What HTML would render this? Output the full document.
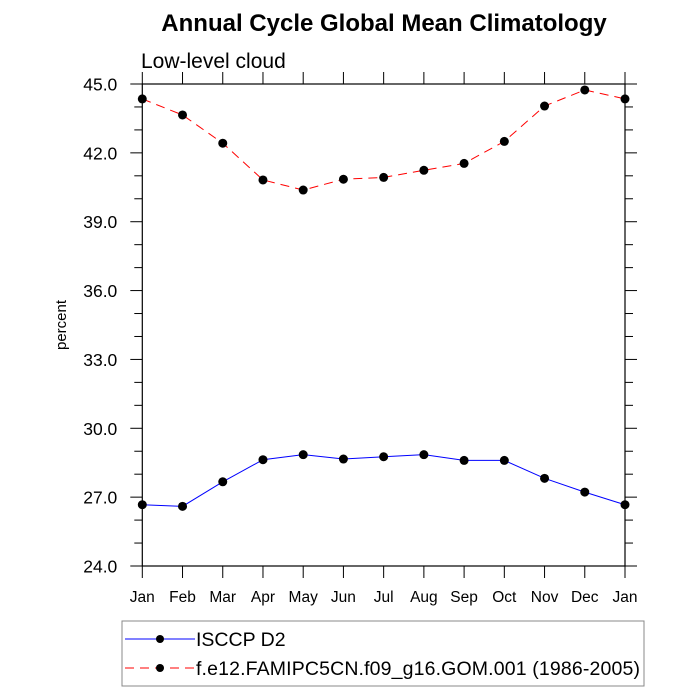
<!DOCTYPE html>
<html><head><meta charset="utf-8"><style>
body{margin:0;background:#fff;}
svg{display:block;font-family:"Liberation Sans",sans-serif;}
</style></head><body>
<svg id="chart" width="700" height="700">
<text x="384" y="31" text-anchor="middle" font-size="24" font-weight="bold">Annual Cycle Global Mean Climatology</text>
<text x="141" y="68" font-size="21">Low-level cloud</text>
<text transform="translate(66,325) rotate(-90)" text-anchor="middle" font-size="15">percent</text>
<g id="axes"></g>
<g id="series"></g>
<g>
<rect x="122" y="621" width="522" height="65" fill="none" stroke="#888" stroke-width="1"/>
<line x1="125" y1="639" x2="195" y2="639" stroke="#0000ff" stroke-width="1"/>
<circle cx="160" cy="639" r="4" fill="#000"/>
<text x="196" y="646" font-size="19.5">ISCCP D2</text>
<line x1="125" y1="668" x2="195" y2="668" stroke="#ff0000" stroke-width="1" stroke-dasharray="9,6"/>
<circle cx="160" cy="668" r="4" fill="#000"/>
<text x="196" y="675" font-size="19.5" textLength="444">f.e12.FAMIPC5CN.f09_g16.GOM.001 (1986-2005)</text>
</g>
</svg>
<script>
const months = ["Jan","Feb","Mar","Apr","May","Jun","Jul","Aug","Sep","Oct","Nov","Dec","Jan"];
const isccp = [26.67,26.6,27.67,28.63,28.85,28.66,28.76,28.85,28.6,28.6,27.82,27.22,26.67];
const model = [44.35,43.65,42.42,40.82,40.38,40.85,40.93,41.24,41.54,42.5,44.04,44.74,44.35];
const yTicks = ["24.0","27.0","30.0","33.0","36.0","39.0","42.0","45.0"];
const L=142.3,R=625,T=84,B=566,ymin=24,ymax=45;
const NS="http://www.w3.org/2000/svg";
function xs(i){return L+(R-L)*i/(months.length-1);}
function ys(v){return B-(v-ymin)/(ymax-ymin)*(B-T);}
function mk(tag,attrs,parent){const e=document.createElementNS(NS,tag);for(const k in attrs)e.setAttribute(k,attrs[k]);parent.appendChild(e);return e;}
const ax=document.getElementById('axes');
const frame=mk('rect',{x:L,y:T,width:R-L,height:B-T,fill:'none',stroke:'#000','stroke-width':1.2},ax);


months.forEach((m,i)=>{
  const x=xs(i);
  mk('line',{x1:x,y1:B,x2:x,y2:B+12,stroke:'#000'},ax);
  mk('line',{x1:x,y1:T,x2:x,y2:T-12,stroke:'#000'},ax);
  const t=mk('text',{x:x,y:B+36,'text-anchor':'middle','font-size':15.5},ax);
  t.textContent=m;
  
  
});
for(let v=ymin;v<=ymax;v+=1){
  const y=ys(v),major=((v-ymin)%3===0),len=major?12:8;
  mk('line',{x1:L,y1:y,x2:L-len,y2:y,stroke:'#000'},ax);
  mk('line',{x1:R,y1:y,x2:R+len,y2:y,stroke:'#000'},ax);
}
yTicks.forEach(s=>{
  const t=mk('text',{x:L-25,y:ys(parseFloat(s))+6.5,'text-anchor':'end','font-size':17.5},ax);
  t.textContent=s;
  
  
});
const sg=document.getElementById('series');
function draw(vals,color,dash,name){
  const g=mk('g',{},sg);
  
  
  const pts=vals.map((v,i)=>xs(i)+','+ys(v)).join(' ');
  const a={points:pts,fill:'none',stroke:color,'stroke-width':1};
  if(dash)a['stroke-dasharray']=dash;
  mk('polyline',a,g);
  vals.forEach((v,i)=>{
    const c=mk('circle',{cx:xs(i),cy:ys(v),r:4.5,fill:'#000'},g);
    
    
  });
}
draw(isccp,'#0000ff',null,'series-isccp');
draw(model,'#ff0000','9,6','series-model');
</script>
</body></html>
